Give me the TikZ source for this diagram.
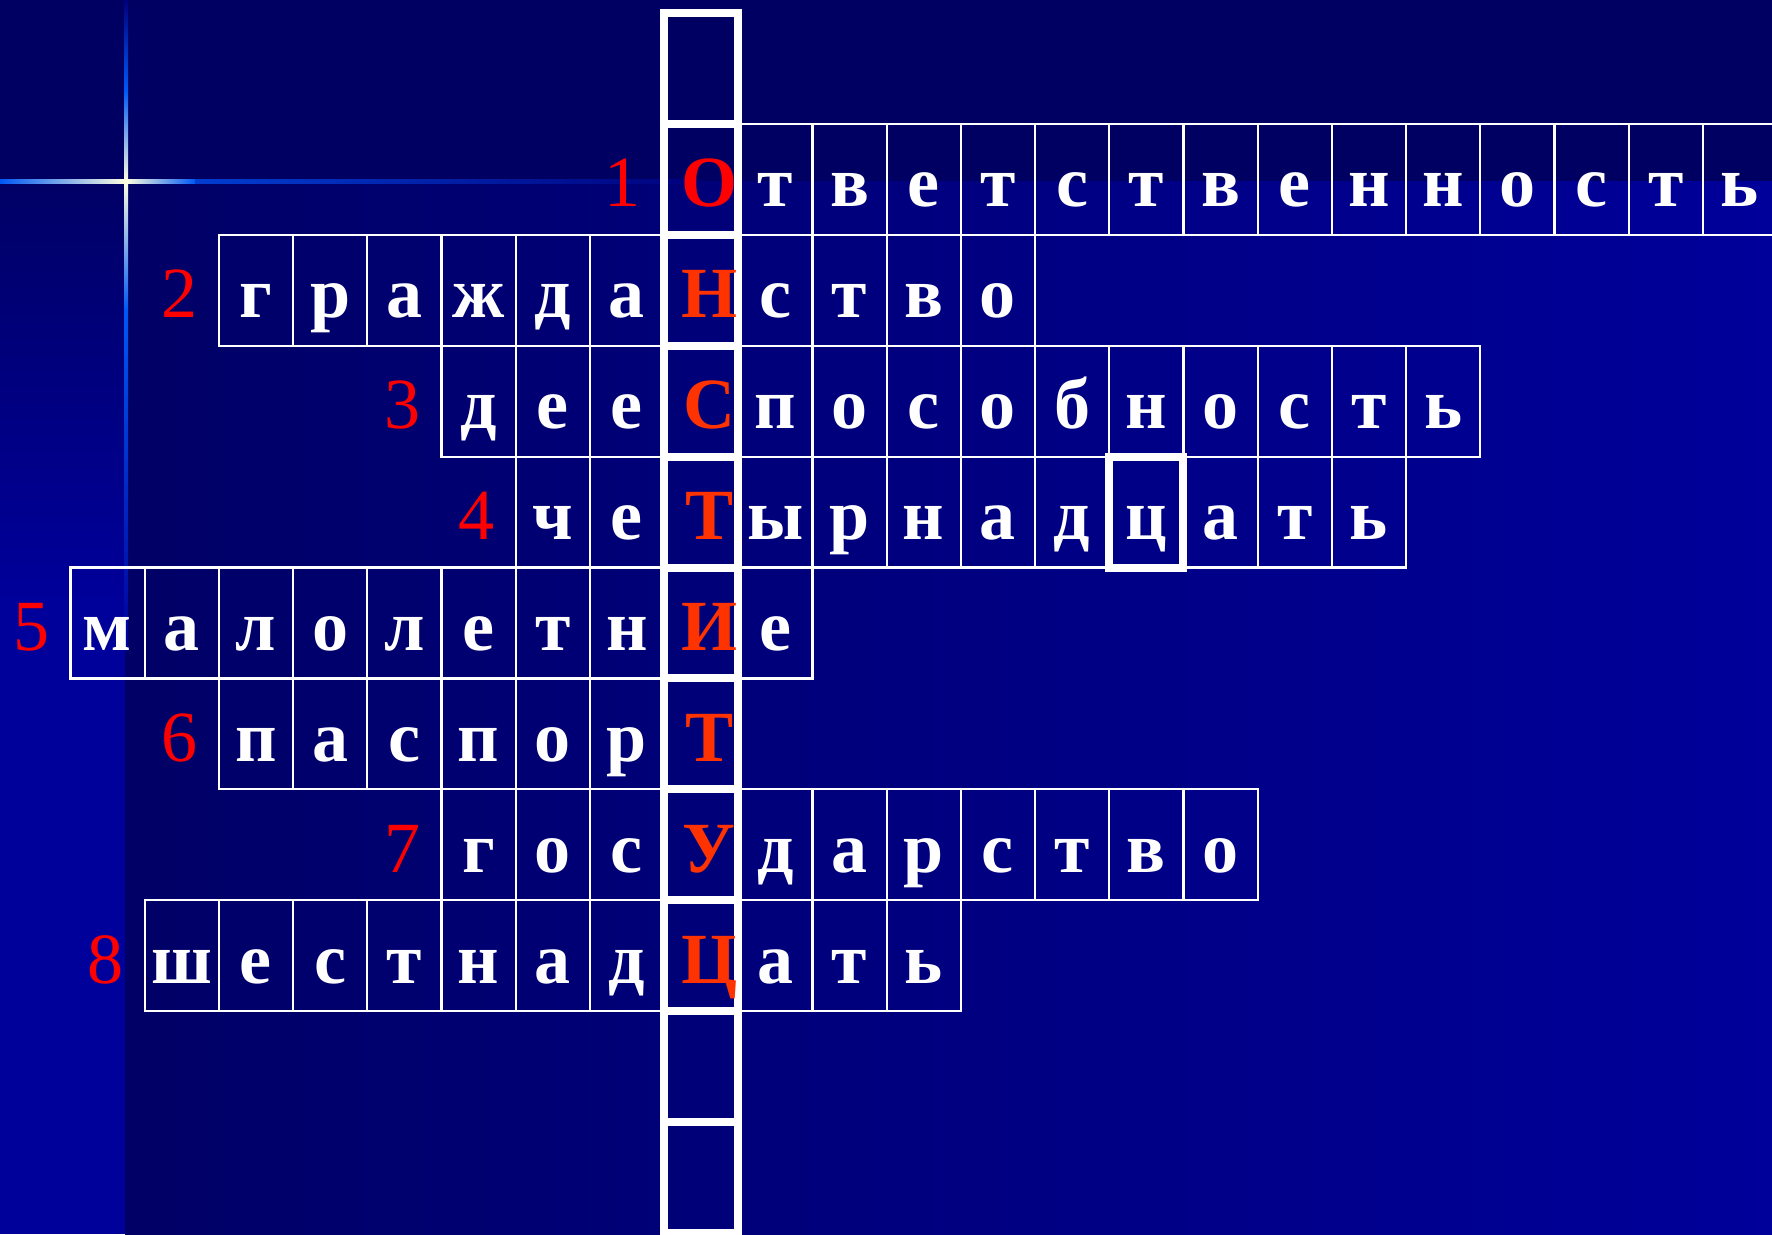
\documentclass[tikz,border=0pt]{standalone}
\usepackage{fontspec}
\setmainfont{Liberation Serif}
\usetikzlibrary{positioning}
\definecolor{navy}{HTML}{000062}
\definecolor{deep}{HTML}{000066}
\definecolor{bright}{HTML}{00009A}
\definecolor{dusk}{HTML}{00007C}
\definecolor{flare}{HTML}{FFFFE0}
\definecolor{ray}{HTML}{0058F5}
\definecolor{keyred}{HTML}{FF3300}
\definecolor{numred}{HTML}{FF0000}
\tikzset{cell/.style={draw=white,line width=0.022cm,minimum width=0.742cm,minimum height=1.109cm,inner sep=0pt,text height=0.6cm,text depth=0.049cm,text=white,font=\fontsize{20.5}{24}\selectfont\bfseries},
key/.style={cell,line width=0.08cm,text=keyred,execute at begin node={\kern0.16cm}},
keyone/.style={key,text=numred},
ring/.style={cell,line width=0.08cm},
num/.style={inner sep=0pt,text height=0.6cm,text depth=0.049cm,text=numred,font=\fontsize{20.5}{24}\selectfont}}

\begin{document}
\begin{tikzpicture}
\useasboundingbox (0,0) rectangle (17.72,-12.34);
\clip (0,0) rectangle (17.72,-12.34);
\fill[navy] (0,0) rectangle (17.72,-1.81);
\shade[left color=deep,right color=bright] (1.25,-1.81) rectangle (17.72,-12.34);
\shade[top color=deep,bottom color=bright] (0,-1.81) rectangle (1.25,-6);
\fill[bright] (0,-6) rectangle (1.25,-12.34);
\shade[top color=dusk,bottom color=flare,middle color=ray] (1.24,0) rectangle (1.28,-1.81);
\shade[top color=flare,bottom color=ray] (1.24,-1.81) rectangle (1.28,-3.1);
\shade[top color=ray,bottom color=bright] (1.24,-3.1) rectangle (1.28,-6.5);
\shade[left color=ray,right color=flare] (0,-1.79) rectangle (1.26,-1.83);
\shade[left color=flare,right color=ray] (1.26,-1.79) rectangle (1.95,-1.83);
\shade[left color=ray!70!dusk,right color=dusk] (1.95,-1.79) rectangle (7,-1.83);
\foreach \rw/\first/\word in {1/8/{О,т,в,е,т,с,т,в,е,н,н,о,с,т,ь},
  2/2/{г,р,а,ж,д,а,Н,с,т,в,о},
  3/5/{д,е,е,С,п,о,с,о,б,н,о,с,т,ь},
  4/6/{ч,е,Т,ы,р,н,а,д,ц,а,т,ь},
  5/0/{м,а,л,о,л,е,т,н,И,е},
  6/2/{п,а,с,п,о,р,Т},
  7/5/{г,о,с,У,д,а,р,с,т,в,о},
  8/1/{ш,е,с,т,н,а,д,Ц,а,т,ь}}{
  \foreach \ch [count=\cl from \first] in \word {
    \edef\kind{\ifnum\cl=8 \ifnum\rw=1 keyone\else key\fi\else\ifnum\rw=4 \ifnum\cl=14 ring\else cell\fi\else cell\fi\fi}
    \node[\kind] (r\rw-\cl) at ({1.075+0.742*\cl},{-0.6845-1.109*\rw}) {\makebox[0pt]{\ch}};
  }
  \node[num,left=0.19cm of r\rw-\first] (n\rw) {\rw};
}
\foreach \rw in {0,9,10}
  \node[key] (r\rw-8) at ({1.075+0.742*8},{-0.6845-1.109*\rw}) {};
\end{tikzpicture}
\end{document}
